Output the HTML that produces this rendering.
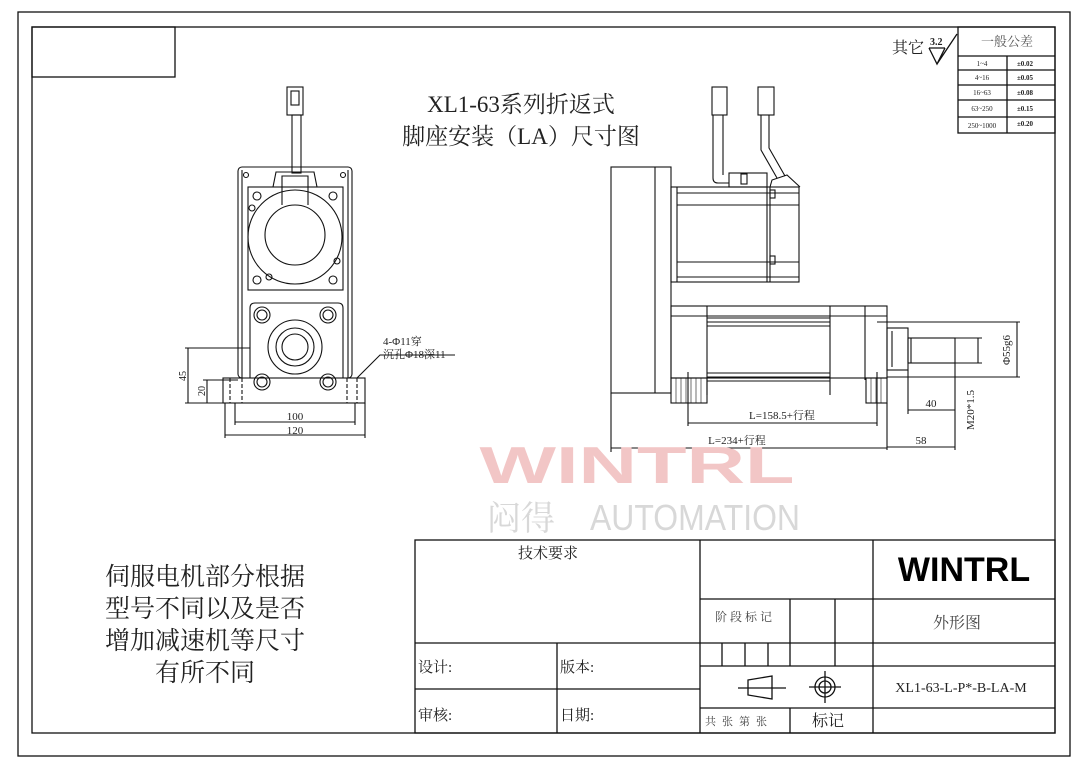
<!DOCTYPE html>
<html><head><meta charset="utf-8"><style>
html,body{margin:0;padding:0;background:#fff;}
svg{display:block;}
text{font-family:"Liberation Serif","Noto Serif CJK SC","Noto Sans CJK SC",serif;fill:#222;}
.s{font-family:"Liberation Sans","Noto Sans CJK SC",sans-serif;}
</style></head><body>
<svg width="1087" height="768" viewBox="0 0 1087 768" xmlns="http://www.w3.org/2000/svg">
<rect width="1087" height="768" fill="#fff"/>
<g fill="none" stroke="#111" stroke-width="1.3">
<rect x="18" y="12" width="1052" height="744"/>
<rect x="32" y="27" width="1023" height="706"/>
<rect x="32" y="27" width="143" height="50"/>
<rect x="958" y="27" width="97" height="106"/>
<line x1="958" y1="56" x2="1055" y2="56"/><line x1="958" y1="70" x2="1055" y2="70"/><line x1="958" y1="85" x2="1055" y2="85"/><line x1="958" y1="100" x2="1055" y2="100"/><line x1="958" y1="117" x2="1055" y2="117"/>
<line x1="1007" y1="56" x2="1007" y2="133"/>
<path d="M929 48 L937 64 L945 48 M929 48 L945 48 M937 64 L957 34"/>
<rect x="415" y="540" width="640" height="193"/>
<line x1="700" y1="540" x2="700" y2="733"/><line x1="873" y1="540" x2="873" y2="733"/>
<line x1="415" y1="643" x2="700" y2="643"/><line x1="415" y1="689" x2="700" y2="689"/><line x1="557" y1="643" x2="557" y2="733"/>
<line x1="700" y1="599" x2="1055" y2="599"/><line x1="700" y1="643" x2="1055" y2="643"/><line x1="700" y1="666" x2="1055" y2="666"/><line x1="700" y1="708" x2="1055" y2="708"/>
<line x1="790" y1="599" x2="790" y2="666"/><line x1="835" y1="599" x2="835" y2="666"/>
<line x1="722" y1="643" x2="722" y2="666"/><line x1="745" y1="643" x2="745" y2="666"/><line x1="768" y1="643" x2="768" y2="666"/>
<line x1="790" y1="708" x2="790" y2="733"/>
<path d="M748 680 L772 676 L772 699 L748 695 Z M738 688 L786 688"/>
<circle cx="825" cy="687" r="10"/><circle cx="825" cy="687" r="6"/><path d="M809 687 L841 687 M825 671 L825 703"/>
</g>
<g fill="none" stroke="#111" stroke-width="1.1">
<rect x="287" y="87" width="16" height="28"/><rect x="291" y="91" width="8" height="14"/>
<rect x="292" y="115" width="9" height="58"/>
<rect x="238" y="167" width="114" height="211" rx="4"/>
<line x1="242" y1="170" x2="242" y2="378"/><line x1="348" y1="170" x2="348" y2="378"/>
<rect x="248" y="187" width="95" height="103"/>
<circle cx="295" cy="237" r="47"/>
<circle cx="295" cy="235" r="30"/>
<path d="M273 187 L276 172 L314 172 L317 187"/>
<path d="M282 205 L282 176 L308 176 L308 205"/>
<circle cx="246" cy="175" r="2.5"/><circle cx="343" cy="175" r="2.5"/>
<circle cx="257" cy="196" r="4"/><circle cx="333" cy="196" r="4"/><circle cx="257" cy="280" r="4"/><circle cx="333" cy="280" r="4"/>
<circle cx="252" cy="208" r="3"/><circle cx="337" cy="261" r="3"/><circle cx="269" cy="277" r="3"/>
<path d="M250 378 L250 308 Q250 303 255 303 L338 303 Q343 303 343 308 L343 378"/>
<circle cx="295" cy="347" r="27"/><circle cx="295" cy="347" r="19"/><circle cx="295" cy="347" r="13"/>
<circle cx="262" cy="315" r="8"/><circle cx="262" cy="315" r="5"/>
<circle cx="328" cy="315" r="8"/><circle cx="328" cy="315" r="5"/>
<circle cx="262" cy="382" r="8"/><circle cx="262" cy="382" r="5"/>
<circle cx="328" cy="382" r="8"/><circle cx="328" cy="382" r="5"/>
<rect x="223" y="378" width="142" height="25"/>
<path d="M230 378 L230 403 M242 378 L242 403 M347 378 L347 403 M357 378 L357 403" stroke-dasharray="4 2"/>
<path d="M185 348 L250 348 M185 403 L223 403 M203 380 L238 380 M188 348 L188 403 M207 380 L207 403"/>
<path d="M225 403 L225 438 M365 403 L365 438 M235 403 L235 425 M355 403 L355 425 M235 422 L355 422 M225 435 L365 435"/>
<path d="M357 378 L380 355 L455 355"/>
</g>
<text x="295" y="420" font-size="11" text-anchor="middle">100</text>
<text x="295" y="434" font-size="11" text-anchor="middle">120</text>
<text x="186" y="376" font-size="10" transform="rotate(-90 186 376)" text-anchor="middle">45</text>
<text x="205" y="391" font-size="10" transform="rotate(-90 205 391)" text-anchor="middle">20</text>
<text x="383" y="345" font-size="11">4-Φ11穿</text>
<text x="383" y="358" font-size="11">沉孔Φ18深11</text>
<g fill="none" stroke="#111" stroke-width="1.1">
<rect x="712" y="87" width="15" height="28"/><rect x="758" y="87" width="16" height="28"/>
<path d="M713 115 L713 178 Q713 183 718 183 L729 183 M723 115 L723 175"/>
<path d="M761 115 L761 150 L777 178 M769 115 L769 148 L785 176"/>
<rect x="729" y="173" width="38" height="14"/><rect x="741" y="174" width="6" height="10"/>
<path d="M770 187 L772 180 L787 175 L800 187"/>
<rect x="611" y="167" width="60" height="226"/><line x1="655" y1="167" x2="655" y2="393"/>
<rect x="671" y="187" width="128" height="95"/>
<line x1="677" y1="187" x2="677" y2="282"/>
<path d="M677 193 L799 193 M677 205 L799 205 M677 262 L799 262 M677 277 L799 277 M767 187 L767 282 M770 187 L770 282"/>
<rect x="770" y="190" width="5" height="8"/><rect x="770" y="256" width="5" height="8"/>
<rect x="671" y="306" width="216" height="72"/>
<line x1="671" y1="316" x2="887" y2="316"/>
<path d="M707 306 L707 395 M830 306 L830 395 M865 306 L865 380"/>
<path d="M707 318 L830 318 M707 322 L830 322 M707 326 L830 326 M707 373 L830 373 M707 377 L830 377 M707 381 L830 381" stroke-width="0.9"/>
<rect x="671" y="378" width="36" height="25"/><rect x="866" y="378" width="21" height="25"/>
<path d="M676 378 L676 403 M681 378 L681 403 M686 378 L686 403 M691 378 L691 403 M696 378 L696 403 M701 378 L701 403 M871 378 L871 403 M876 378 L876 403 M881 378 L881 403" stroke-width="0.6"/>
<rect x="887" y="328" width="21" height="42"/><path d="M892 331 L892 367"/>
<rect x="908" y="338" width="47" height="25"/><path d="M911 338 L911 363"/>
<path d="M877 322 L1020 322 M887 377 L1020 377 M1017 322 L1017 377 M955 338 L982 338 M955 363 L982 363 M978 338 L978 363"/>
<path d="M908 370 L908 414 M955 363 L955 450 M908 410 L955 410 M887 403 L887 450 M887 447 L955 447"/>
<path d="M688 372 L688 426 M877 372 L877 426 M688 423 L877 423 M611 393 L611 452 M611 448 L887 448"/>
</g>
<text x="1010" y="350" font-size="11" transform="rotate(-90 1010 350)" text-anchor="middle">Φ55g6</text>
<text x="974" y="410" font-size="11" transform="rotate(-90 974 410)" text-anchor="middle">M20*1.5</text>
<text x="931" y="407" font-size="11" text-anchor="middle">40</text>
<text x="921" y="444" font-size="11" text-anchor="middle">58</text>
<text x="782" y="419" font-size="11" text-anchor="middle">L=158.5+行程</text>
<text x="737" y="444" font-size="11" text-anchor="middle">L=234+行程</text>
<text x="637" y="483" font-size="52" class="s" font-weight="bold" style="fill:#f2c6c6" text-anchor="middle" textLength="315" lengthAdjust="spacingAndGlyphs">WINTRL</text>
<text x="487" y="530" font-size="34" style="fill:#d8d8d8">闷得</text>
<text x="695" y="530" font-size="36" class="s" style="fill:#d8d8d8" text-anchor="middle" textLength="210" lengthAdjust="spacingAndGlyphs">AUTOMATION</text>
<text x="521" y="112" font-size="23" text-anchor="middle">XL1-63系列折返式</text>
<text x="521" y="144" font-size="23" text-anchor="middle">脚座安装（LA）尺寸图</text>
<text x="892" y="53" font-size="16">其它</text>
<text x="930" y="45" font-size="10" font-weight="bold">3.2</text>
<text x="1007" y="46" font-size="13" text-anchor="middle" style="fill:#555">一般公差</text>
<g font-size="7" style="fill:#555" text-anchor="middle">
<text x="982" y="66">1~4</text><text x="982" y="80">4~16</text><text x="982" y="95">16~63</text><text x="982" y="111">63~250</text><text x="982" y="128">250~1000</text>
</g>
<g font-size="7" font-weight="bold" text-anchor="middle">
<text x="1025" y="66">±0.02</text><text x="1025" y="80">±0.05</text><text x="1025" y="95">±0.08</text><text x="1025" y="111">±0.15</text><text x="1025" y="126">±0.20</text>
</g>
<g font-size="25" text-anchor="middle">
<text x="205" y="585">伺服电机部分根据</text>
<text x="205" y="617">型号不同以及是否</text>
<text x="205" y="649">增加减速机等尺寸</text>
<text x="205" y="681">有所不同</text>
</g>
<text x="548" y="558" font-size="15" text-anchor="middle">技术要求</text>
<text x="418" y="672" font-size="15">设计:</text>
<text x="560" y="672" font-size="15">版本:</text>
<text x="418" y="720" font-size="15">审核:</text>
<text x="560" y="720" font-size="15">日期:</text>
<text x="745" y="621" font-size="12" text-anchor="middle" style="fill:#444" letter-spacing="3">阶段标记</text>
<text x="705" y="725" font-size="11" style="fill:#444" letter-spacing="6">共张第张</text>
<text x="828" y="726" font-size="16" text-anchor="middle">标记</text>
<text x="964" y="581" font-size="34" class="s" font-weight="bold" text-anchor="middle" style="fill:#000">WINTRL</text>
<text x="957" y="628" font-size="16" text-anchor="middle" style="fill:#444">外形图</text>
<text x="961" y="692" font-size="14" text-anchor="middle" font-family="Liberation Mono">XL1-63-L-P*-B-LA-M</text>
</svg>
</body></html>
